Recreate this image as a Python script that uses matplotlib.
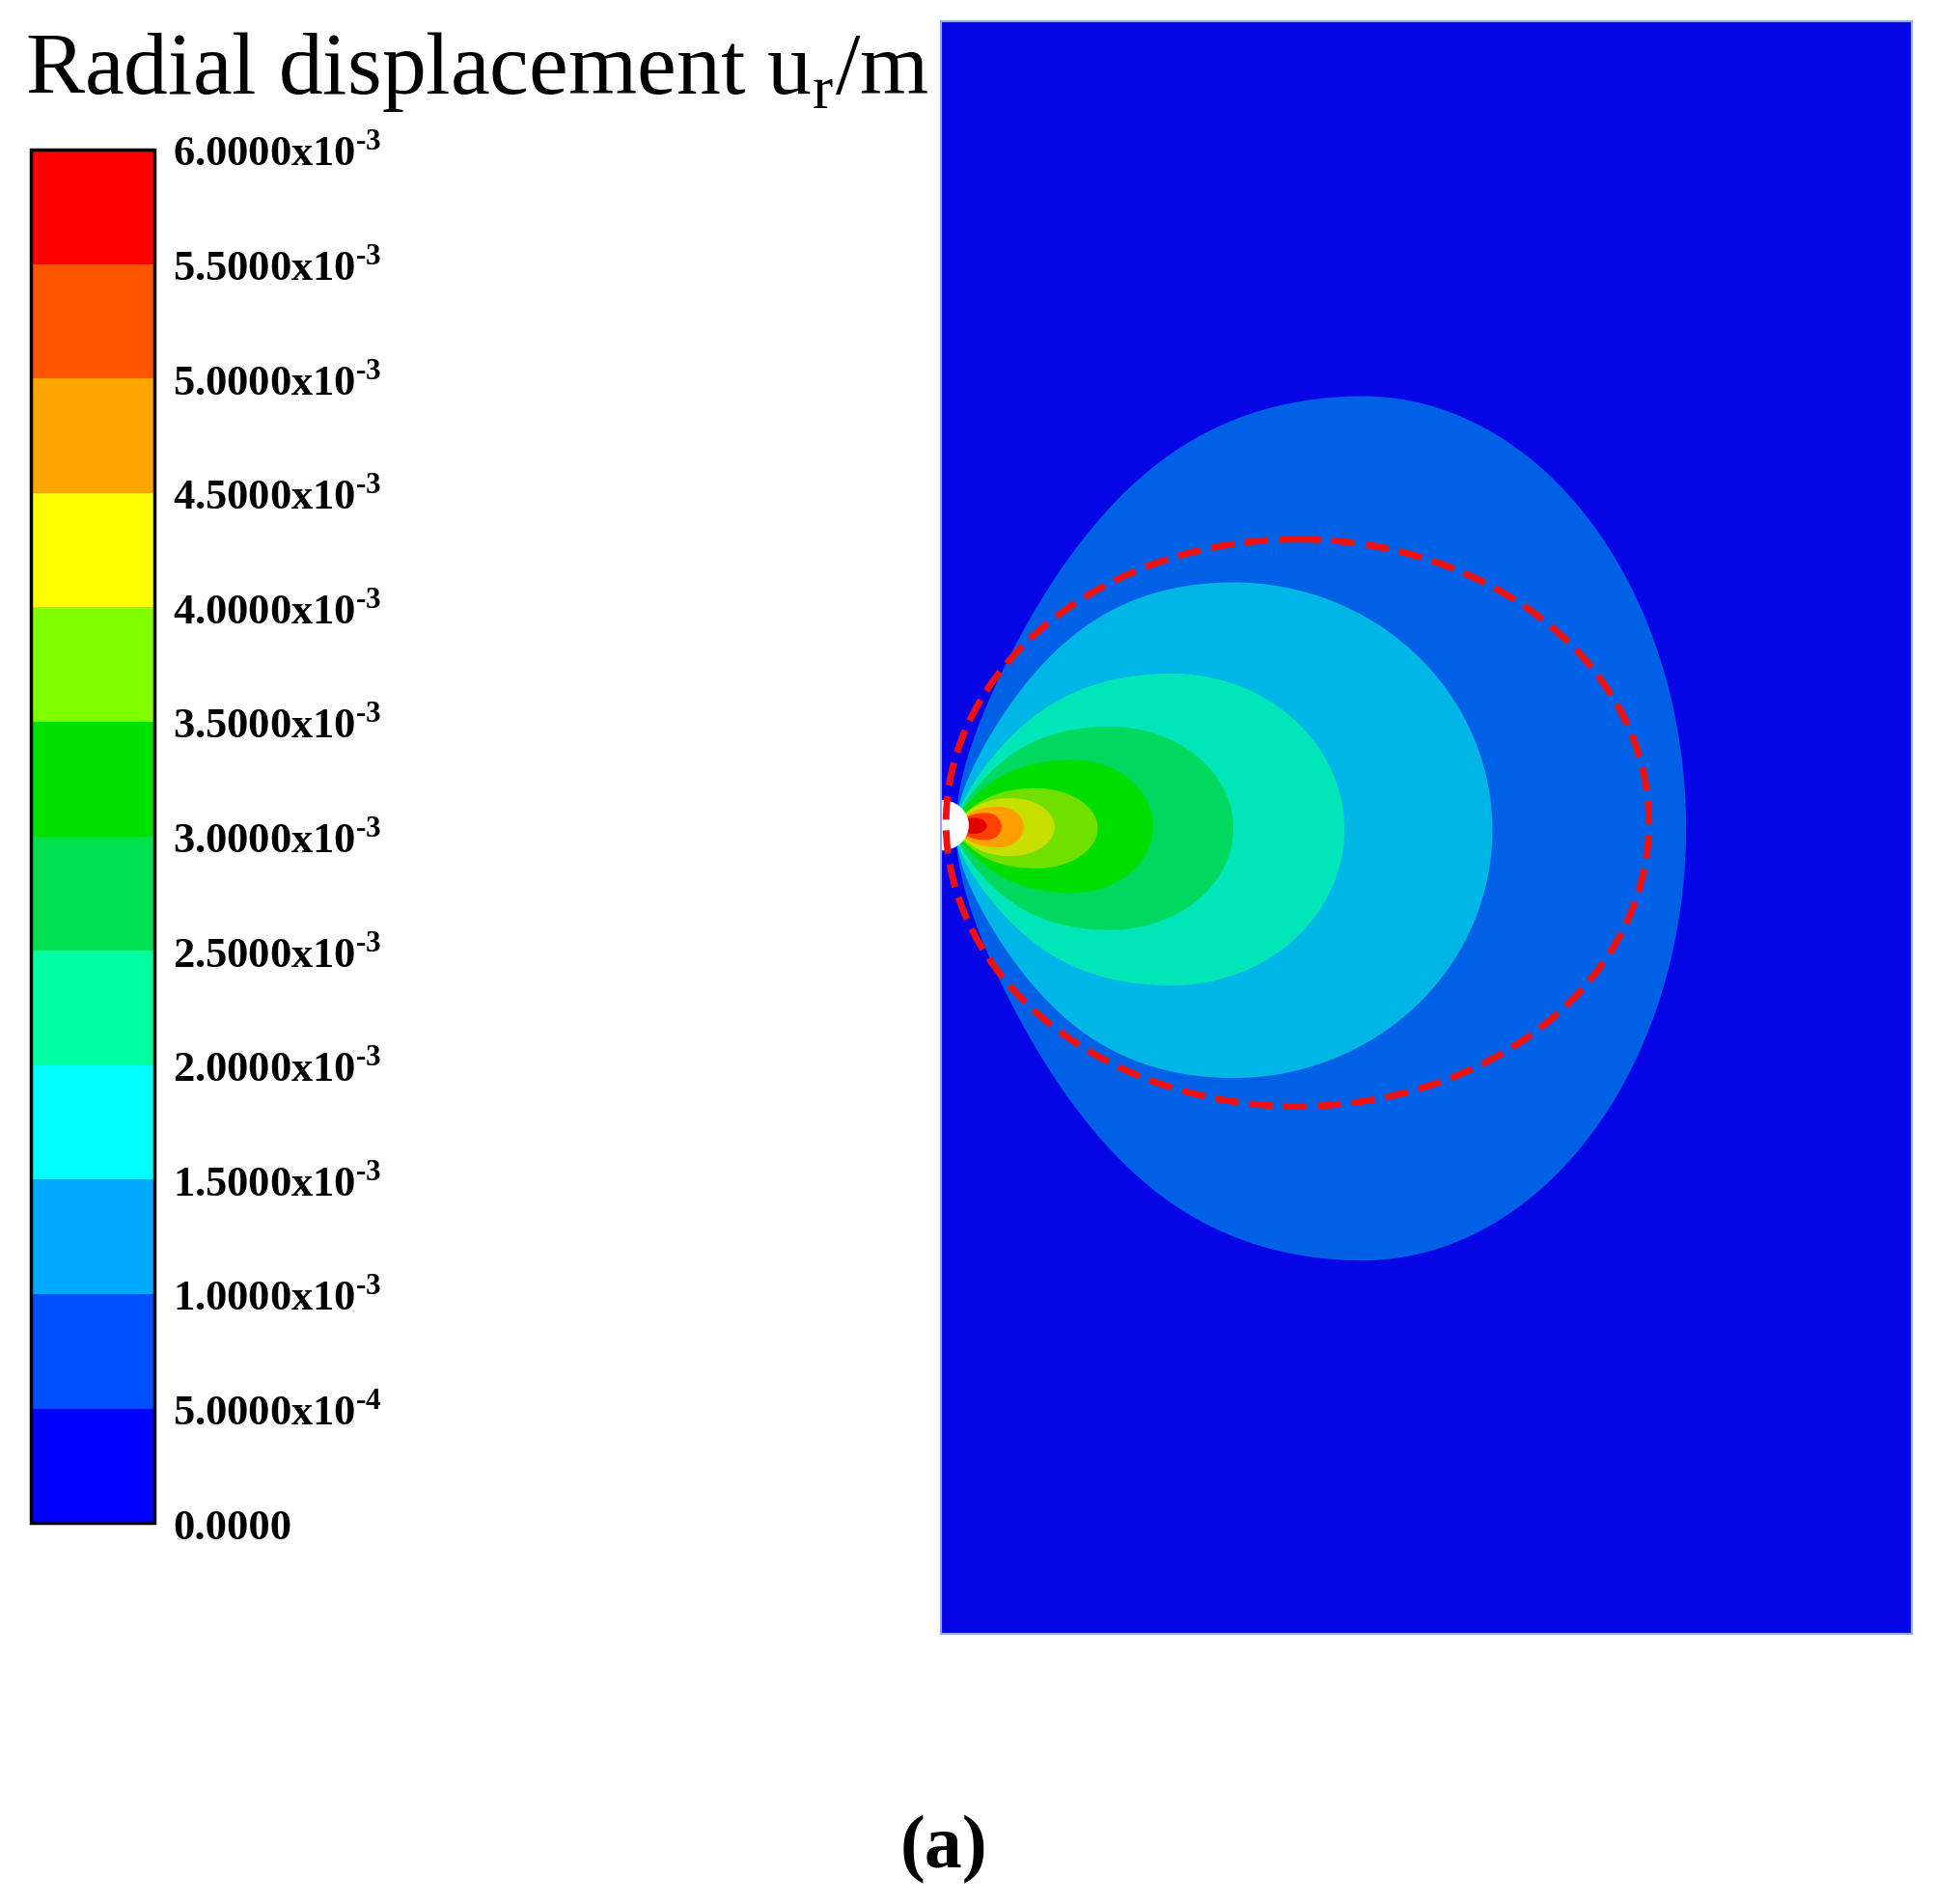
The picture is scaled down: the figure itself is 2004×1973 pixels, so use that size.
import matplotlib.pyplot as plt
import numpy as np
from matplotlib.colors import ListedColormap, BoundaryNorm
from matplotlib.patches import Ellipse, Rectangle

plt.rcParams['font.family'] = 'Liberation Serif'
plt.rcParams['mathtext.fontset'] = 'custom'
plt.rcParams['mathtext.rm'] = 'Liberation Serif:bold'

# colorbar levels and colours
levels = [0.0, 0.5e-3, 1.0e-3, 1.5e-3, 2.0e-3, 2.5e-3, 3.0e-3, 3.5e-3, 4.0e-3, 4.5e-3, 5.0e-3, 5.5e-3, 6.0e-3]
level_labels = ["0.0000", "5.0000x10$^{\\text{-4}}$", "1.0000x10$^{\\text{-3}}$", "1.5000x10$^{\\text{-3}}$",
                "2.0000x10$^{\\text{-3}}$", "2.5000x10$^{\\text{-3}}$", "3.0000x10$^{\\text{-3}}$",
                "3.5000x10$^{\\text{-3}}$", "4.0000x10$^{\\text{-3}}$", "4.5000x10$^{\\text{-3}}$",
                "5.0000x10$^{\\text{-3}}$", "5.5000x10$^{\\text{-3}}$", "6.0000x10$^{\\text{-3}}$"]
bar_colors = ["#0000ff", "#0050ff", "#00a8ff", "#00ffff", "#00ffa0", "#00e050",
              "#00e000", "#80ff00", "#ffff00", "#ffa500", "#ff5500", "#ff0000"]

# contour zones in the model (plot units): centre x, right extent, top, bottom
src_x, src_y = 775, 670
zone_cx = [1105, 1000, 950, 900, 870, 840, 820, 810, 800, 790]
zone_xr = [1367, 1210, 1090, 1000, 935, 890, 855, 830, 812, 800]
zone_top = [322, 473, 547, 590, 617, 640, 648, 655, 660, 664]
zone_bot = [1023, 875, 800, 755, 725, 705, 695, 688, 682, 677]
zone_colors = ["#0060e6", "#00b6e6", "#00e6b8", "#00d860", "#00dd00", "#70e000",
               "#c8e000", "#ffa000", "#ff4000", "#e00000"]
background = "#0505e6"

# plastic zone boundary (red dashed)
ell_cx, ell_cy, ell_w, ell_h = 1052, 668, 570, 460

fig = plt.figure(figsize=(20.04, 19.74), dpi=100)

ax = fig.add_axes([0.4866, 0.1417, 0.5019, 0.8466])
ax.set_xlim(763, 1550)
ax.set_ylim(1326, 18)
ax.add_patch(Rectangle((763, 18), 787, 1308, color=background, zorder=0))
t = np.linspace(0, 2 * np.pi, 400)
for cx, xr, top, bot, col in zip(zone_cx, zone_xr, zone_top, zone_bot, zone_colors):
    cy = (top + bot) / 2
    hy = (bot - top) / 2
    ax_r = np.where(np.cos(t) >= 0, xr - cx, cx - src_x)
    xs = cx + ax_r * np.cos(t)
    ys = cy + hy * np.sin(t)
    # pinch towards the source point on the left side
    left = np.cos(t) < 0
    ys[left] = cy + (ys[left] - cy) * (1 - 0.35 * (-np.cos(t[left])) ** 4)
    ax.fill(xs, ys, color=col, lw=0, zorder=1)
ax.add_patch(Ellipse((763, src_y), 44, 40, color="white", zorder=2))
ax.add_patch(Ellipse((ell_cx, ell_cy), ell_w, ell_h, fill=False, ec="#ee1111",
                     lw=5, ls=(0, (3.5, 1.6)), zorder=3))
ax.set_xticks([])
ax.set_yticks([])
for s in ax.spines.values():
    s.set_color("#8fa8ff")
    s.set_linewidth(1.5)

cax = fig.add_axes([0.016, 0.2, 0.0637, 0.721])
cmap = ListedColormap(bar_colors)
norm = BoundaryNorm(levels, cmap.N)
cb = fig.colorbar(plt.cm.ScalarMappable(norm=norm, cmap=cmap), cax=cax, ticks=levels)
cb.ax.set_yticklabels(level_labels, fontsize=32, fontweight="bold")
cb.ax.tick_params(length=0, pad=14)
cb.outline.set_linewidth(2.5)

fig.text(0.0128, 0.951, "Radial displacement u$_\\mathregular{r}$/m", fontsize=66)
fig.text(0.488, 0.029, "(a)", fontsize=56, fontweight="bold", ha="center", va="center")

fig.savefig("out.png")
